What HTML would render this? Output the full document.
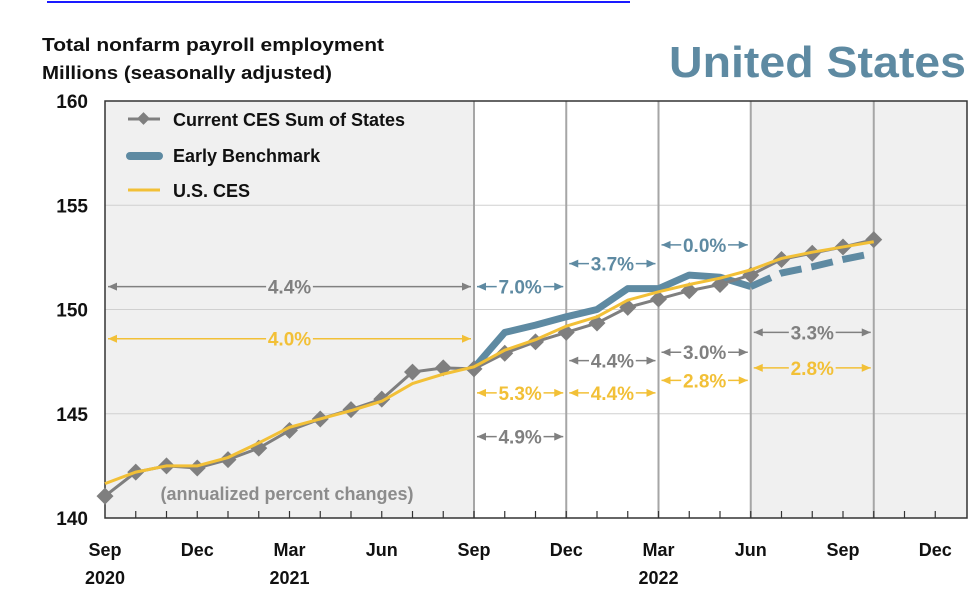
<!DOCTYPE html>
<html><head><meta charset="utf-8"><style>
body{margin:0;background:#fff;width:980px;height:610px;overflow:hidden;font-family:"Liberation Sans",sans-serif}
svg text{font-family:"Liberation Sans",sans-serif;font-weight:bold}
</style></head><body>
<svg id="chart" width="980" height="610">
<line x1="47" y1="2" x2="630" y2="2" stroke="#1a1aff" stroke-width="2"/>
<text x="42" y="51" font-size="18" fill="#111" textLength="342" lengthAdjust="spacingAndGlyphs">Total nonfarm payroll employment</text>
<text x="42" y="79" font-size="18" fill="#111" textLength="290" lengthAdjust="spacingAndGlyphs">Millions (seasonally adjusted)</text>
<text x="669" y="77" font-size="44" fill="#5e8aa2" textLength="297" lengthAdjust="spacingAndGlyphs">United States</text>
<g id="plot"></g>
</svg>
<script>
const monthLabels=["Sep","Dec","Mar","Jun","Sep","Dec","Mar","Jun","Sep","Dec"];
const yearLabels=["2020","2021","2022"];
const yTicks=[140,145,150,155,160];
const sumStates=[141.05,142.2,142.5,142.4,142.8,143.35,144.2,144.75,145.2,145.7,147.0,147.2,147.15,147.9,148.45,148.9,149.35,150.1,150.5,150.9,151.2,151.65,152.4,152.7,153.0,153.35];
const usCes=[141.65,142.2,142.5,142.5,142.9,143.6,144.35,144.75,145.15,145.6,146.45,146.9,147.25,148.05,148.55,149.2,149.65,150.45,150.85,151.2,151.5,151.9,152.45,152.75,153.0,153.25];
const earlySolid=[147.2,148.9,149.25,149.65,150.0,151.0,151.0,151.65,151.55,151.1];
const earlyDashed=[151.1,151.75,152.05,152.4,152.7];
const annLabels=["4.4%","4.0%","7.0%","3.7%","0.0%","4.4%","3.0%","5.3%","4.4%","2.8%","3.3%","2.8%","4.9%"];
const annFrom=[0,0,12,15,18,15,18,12,15,18,21,21,12];
const annTo=[12,12,15,18,21,18,21,15,18,21,25,25,15];
const annLevel=[151.1,148.6,151.1,152.2,153.1,147.55,147.95,146.0,146.0,146.6,148.9,147.2,143.9];
const annSeries=["g","y","b","b","b","g","g","y","y","y","g","y","g"];

const X0=105,PX=30.75,Y0=518,PY=20.85;
const x=m=>X0+m*PX, y=v=>Y0-(v-140)*PY;
const NS="http://www.w3.org/2000/svg";
const g=document.getElementById('plot');
function el(t,a,p){const e=document.createElementNS(NS,t);for(const k in a)e.setAttribute(k,a[k]);(p||g).appendChild(e);return e;}
const col={g:"#808080",y:"#f2c037",b:"#5e8aa2"};
let r=el('rect',{x:x(0),y:101,width:x(12)-x(0),height:Y0-101,fill:"#f0f0f0"});


r=el('rect',{x:x(21),y:101,width:967-x(21),height:Y0-101,fill:"#f0f0f0"});


yTicks.forEach(v=>{
 if(v>140&&v<160){const l=el('line',{x1:X0,x2:967,y1:y(v),y2:y(v),stroke:"#d0d0d0","stroke-width":1});
 
 }
 const t=el('text',{x:88,y:y(v)+7,"font-size":19,"text-anchor":"end",fill:"#111"});t.textContent=v;
 
 
});
[12,15,18,21,25].forEach(m=>{const l=el('line',{x1:x(m),x2:x(m),y1:101,y2:Y0,stroke:"#a6a6a6","stroke-width":2});
 
 });
const b=el('rect',{x:X0,y:101,width:967-X0,height:Y0-101,fill:"none",stroke:"#333","stroke-width":1.5});


for(let m=1;m<28;m++){const l=el('line',{x1:x(m),x2:x(m),y1:Y0,y2:Y0-7,stroke:"#333","stroke-width":1.2});
 
 }
monthLabels.forEach((s,i)=>{const t=el('text',{x:x(i*3),y:556,"font-size":18,"text-anchor":"middle",fill:"#111"});t.textContent=s;
 
 });
yearLabels.forEach((s,i)=>{const t=el('text',{x:x([0,6,18][i]),y:584,"font-size":18,"text-anchor":"middle",fill:"#111"});t.textContent=s;
 
 });
const pts=(arr,off)=>arr.map((v,i)=>x(i+off)+","+y(v)).join(" ");
let p=el('polyline',{points:pts(earlySolid,12),fill:"none",stroke:col.b,"stroke-width":7,"stroke-linejoin":"round"});


p=el('polyline',{points:pts(earlyDashed,21),fill:"none",stroke:col.b,"stroke-width":7,"stroke-dasharray":"22,10"});


p=el('polyline',{points:pts(sumStates,0),fill:"none",stroke:"#7f7f7f","stroke-width":3});


sumStates.forEach((v,i)=>{const d=el('rect',{x:x(i)-6,y:y(v)-6,width:12,height:12,fill:"#7f7f7f",transform:`rotate(45 ${x(i)} ${y(v)})`});
 
 });
p=el('polyline',{points:pts(usCes,0),fill:"none",stroke:col.y,"stroke-width":3});


annLabels.forEach((s,i)=>{
 const c=col[annSeries[i]],x1=x(annFrom[i])+3,x2=x(annTo[i])-3,yy=y(annLevel[i]),mx=(x1+x2)/2,hw=s.length*5.6+1;
 const gg=el('g',{});
 
 
 el('line',{x1:x1,x2:mx-hw,y1:yy,y2:yy,stroke:c,"stroke-width":1.5},gg);
 el('line',{x1:mx+hw,x2:x2,y1:yy,y2:yy,stroke:c,"stroke-width":1.5},gg);
 el('polygon',{points:`${x1},${yy} ${x1+9},${yy-4} ${x1+9},${yy+4}`,fill:c},gg);
 el('polygon',{points:`${x2},${yy} ${x2-9},${yy-4} ${x2-9},${yy+4}`,fill:c},gg);
 const t=el('text',{x:mx,y:yy+7,"font-size":19,"text-anchor":"middle",fill:c},gg);t.textContent=s;
});
let t=el('text',{x:287,y:500,"font-size":18,"text-anchor":"middle",fill:"#8c8c8c","font-weight":"bold"});t.textContent="(annualized percent changes)";


const lg=el('g',{});


el('line',{x1:128,x2:160,y1:119,y2:119,stroke:"#7f7f7f","stroke-width":3},lg);
el('rect',{x:139,y:114,width:9,height:9,fill:"#7f7f7f",transform:"rotate(45 143.5 118.5)"},lg);
el('line',{x1:130,x2:159,y1:156,y2:156,stroke:col.b,"stroke-width":8,"stroke-linecap":"round"},lg);
el('line',{x1:128,x2:160,y1:190,y2:190,stroke:col.y,"stroke-width":3},lg);
[["Current CES Sum of States",126],["Early Benchmark",162],["U.S. CES",197]].forEach(a=>{const tt=el('text',{x:173,y:a[1],"font-size":18,fill:"#111"},lg);tt.textContent=a[0];});
</script>
</body></html>
